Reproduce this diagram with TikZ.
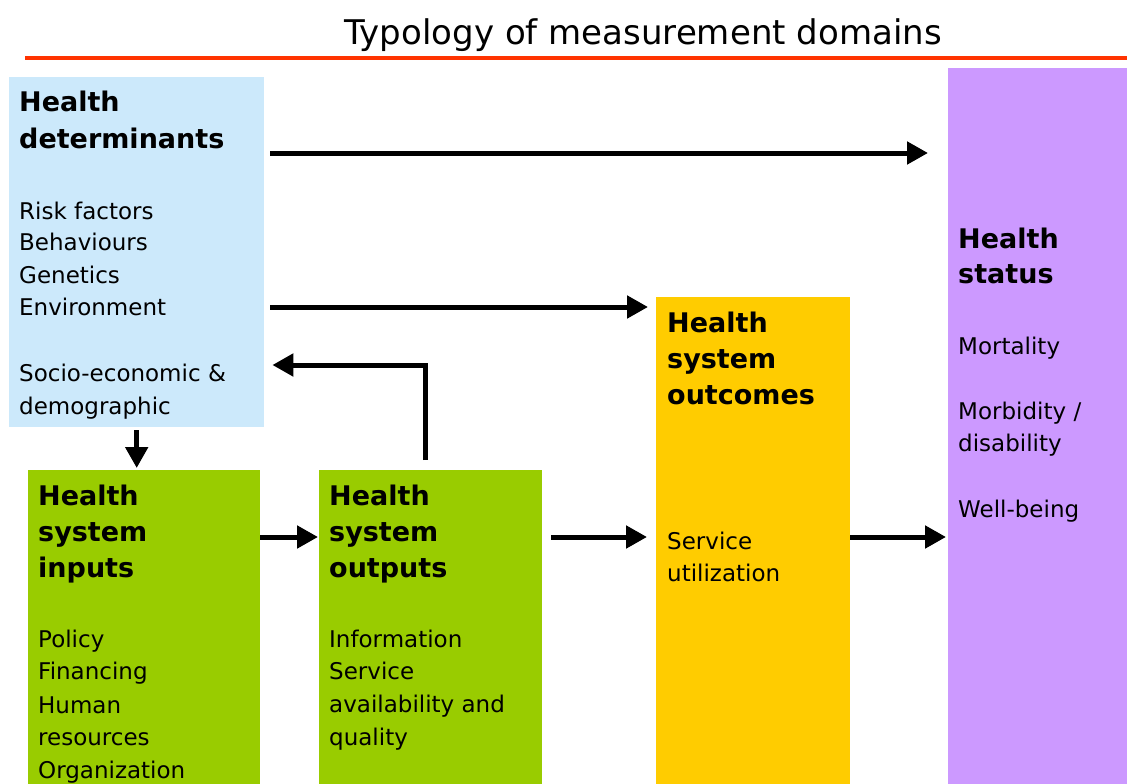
\documentclass[tikz,border=0pt]{standalone}
\usepackage{fontspec}
\setmainfont{DejaVu Sans}
\usetikzlibrary{arrows.meta}
\definecolor{detblue}{HTML}{CCE9FB}
\definecolor{statpurple}{HTML}{CC99FF}
\definecolor{ocyellow}{HTML}{FFCC00}
\definecolor{sysgreen}{HTML}{99CC00}
\definecolor{rulered}{HTML}{FF3300}
\tikzset{
  box/.style={draw=none, inner sep=0pt, anchor=north west},
  hd/.style={anchor=base west, inner sep=0pt, font=\fontsize{27}{32}\selectfont\bfseries},
  bd/.style={anchor=base west, inner sep=0pt, font=\fontsize{23}{28}\selectfont},
  arr/.style={line width=5pt, -{Triangle[length=21pt,width=22pt]}},
}
\begin{document}
\begin{tikzpicture}[x=1pt,y=-1pt]
\useasboundingbox[fill=white] (0,0) rectangle (1127,784);
% title and rule
\node[anchor=base, inner sep=0pt, font=\fontsize{34}{40}\selectfont] (title) at (643,45) {Typology of measurement domains};
\draw[line width=4pt, rulered] (25,58.5) -- (1127,58.5);
% boxes
\node[box, fill=detblue, minimum width=255pt, minimum height=350pt] (det) at (9,77) {};
\node[box, fill=statpurple, minimum width=179pt, minimum height=716pt] (stat) at (948,68) {};
\node[box, fill=ocyellow, minimum width=194pt, minimum height=487pt] (oc) at (656,297) {};
\node[box, fill=sysgreen, minimum width=232pt, minimum height=314pt] (inp) at (28,470) {};
\node[box, fill=sysgreen, minimum width=223pt, minimum height=314pt] (outp) at (319,470) {};
% determinants text
\node[hd] (d1) at (19,111) {Health};
\node[hd] (d2) at (19,148) {determinants};
\node[bd] (d3) at (19,219) {Risk factors};
\node[bd] (d4) at (19,250) {Behaviours};
\node[bd] (d5) at (19,283) {Genetics};
\node[bd] (d6) at (19,315) {Environment};
\node[bd] (d7) at (19,381) {Socio-economic \&};
\node[bd] (d8) at (19,414) {demographic};
% status text
\node[hd] (s1) at (958,248) {Health};
\node[hd] (s2) at (958,283) {status};
\node[bd] (s3) at (958,354) {Mortality};
\node[bd] (s4) at (958,419) {Morbidity /};
\node[bd] (s5) at (958,451) {disability};
\node[bd] (s6) at (958,517) {Well-being};
% outcomes text
\node[hd] (o1) at (667,332) {Health};
\node[hd] (o2) at (667,368) {system};
\node[hd] (o3) at (667,404) {outcomes};
\node[bd] (o4) at (667,549) {Service};
\node[bd] (o5) at (667,581) {utilization};
% inputs text
\node[hd] (i1) at (38,505) {Health};
\node[hd] (i2) at (38,541) {system};
\node[hd] (i3) at (38,577) {inputs};
\node[bd] (i4) at (38,647) {Policy};
\node[bd] (i5) at (38,679) {Financing};
\node[bd] (i6) at (38,713) {Human};
\node[bd] (i7) at (38,745) {resources};
\node[bd] (i8) at (38,778) {Organization};
% outputs text
\node[hd] (p1) at (329,505) {Health};
\node[hd] (p2) at (329,541) {system};
\node[hd] (p3) at (329,577) {outputs};
\node[bd] (p4) at (329,647) {Information};
\node[bd] (p5) at (329,679) {Service};
\node[bd] (p6) at (329,712) {availability and};
\node[bd] (p7) at (329,745) {quality};
% arrows
\draw[arr, shorten <=6pt, shorten >=20pt] (det.east |- 0,153) -- (stat.west |- 0,153);
\draw[arr, shorten <=6pt, shorten >=8pt] (det.east |- 0,307) -- (oc.west |- 0,307);
\draw[arr] ([xshift=-5.5pt,yshift=10pt]outp.north) |- ([xshift=8pt]det.east |- 0,365);
\draw[arr, shorten <=3pt, shorten >=2pt] (det.south) -- (det.south |- inp.north);
\draw[arr, shorten >=1pt] (inp.east |- 0,537) -- (outp.west |- 0,537);
\draw[arr, shorten <=9pt, shorten >=9pt] (outp.east |- 0,537) -- (oc.west |- 0,537);
\draw[arr, shorten >=2pt] (oc.east |- 0,537) -- (stat.west |- 0,537);
\end{tikzpicture}
\end{document}
